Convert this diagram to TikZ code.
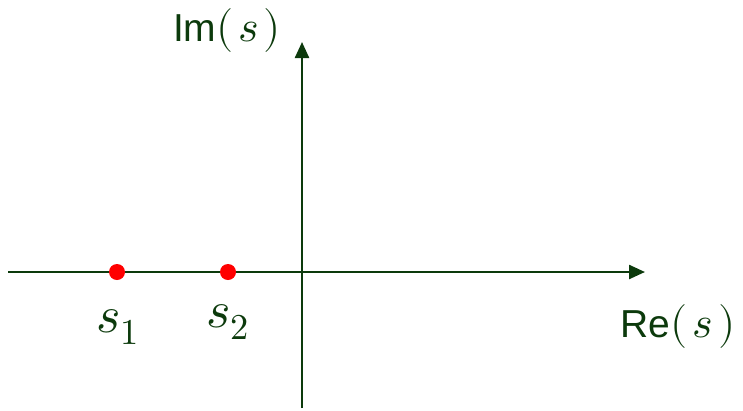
\documentclass[tikz,border=0pt]{standalone}
\usepackage{fontspec}
\usepackage{unicode-math}
\setmainfont{Liberation Sans}
\setmathfont{Latin Modern Math}
\usetikzlibrary{arrows.meta}
\definecolor{axisgreen}{RGB}{12,58,12}
\definecolor{polered}{RGB}{255,0,0}
\newcommand{\argS}{{\fontsize{44}{50}\selectfont$(\mkern2mu s\mkern2mu)$}}
\begin{document}
\begin{tikzpicture}[x=1pt,y=-1pt,
  axis/.style={draw=axisgreen,line width=2.4pt,-{Triangle[length=16pt,width=14pt]}},
  pole/.style={circle,fill=polered,inner sep=0pt,minimum size=16pt},
  axlabel/.style={text=axisgreen,inner sep=0pt,font=\fontsize{39}{44}\selectfont},
  polelabel/.style={text=axisgreen,inner sep=0pt,font=\fontsize{52}{58}\selectfont}]
\useasboundingbox (0,0) rectangle (743,410);
\coordinate (xs) at (8,272);
\coordinate (xe) at (645,272);
\coordinate (ys) at (302,408);
\coordinate (ye) at (302,42);
\draw[axis] (xs) -- (xe);
\draw[axis] (ys) -- (ye);
\node[pole] (p1) at (117,272) {};
\node[pole] (p2) at (228,272) {};
\node[polelabel] (l1) at (118,327) {$s_1$};
\node[polelabel] (l2) at (228,322) {$s_2$};
\node[axlabel] (im) at (227,30) {Im\argS};
\node[axlabel] (re) at (678,326) {Re\argS};
\end{tikzpicture}
\end{document}
